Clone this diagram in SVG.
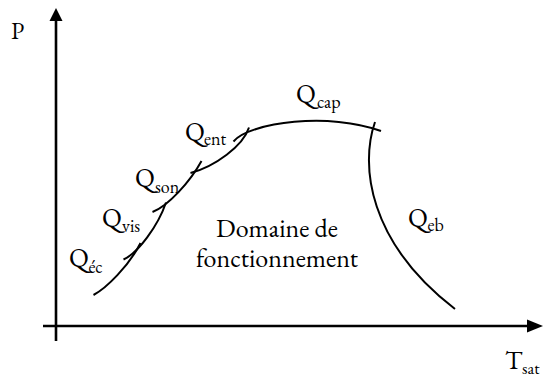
<svg xmlns="http://www.w3.org/2000/svg" width="543" height="378" viewBox="0 0 543 378">
<style>
.ax{stroke:#000;stroke-width:2.6;fill:none}
.cv{stroke:#000;stroke-width:2;fill:none;stroke-linecap:butt}
.q{font-size:26px}
.s{font-size:18px}
</style>
<rect width="543" height="378" fill="#fff"/>
<g id="axes">
<line class="ax" x1="56" y1="341" x2="56" y2="18"/>
<polygon points="56,8 49.5,21 62.5,21" fill="#000"/>
<line class="ax" x1="43" y1="326" x2="530" y2="326"/>
<polygon points="543,326 527,319.5 527,332.5" fill="#000"/>
<text id="P" font-family="EB Garamond, serif" x="11" y="39" font-size="24">P</text>
<text id="Tsat" class="q" font-family="EB Garamond, serif" x="505" y="369">T<tspan x="522" y="374" font-size="17">sat</tspan></text>
</g>
<g id="connectors">
<path id="c-ec" class="cv" d="M93.5,295 C106,288.5 129,266 140.5,243"/>
<path id="c-vis" class="cv" d="M123.5,259.5 C138,253 158,226 166,202.5"/>
<path id="c-son" class="cv" d="M152.5,212 C168,206 190,182 201.5,161"/>
<path id="c-ent" class="cv" d="M190.5,173 C215,166.5 243,146 249,127.5"/>
<path id="c-cap" class="cv" d="M233.5,141.5 C250,122 330,112 381,131"/>
<path id="c-eb" class="cv" d="M375,122 C360,165 368,242 455,309"/>
</g>
<g id="n-ec"><text class="q" font-family="EB Garamond, serif" x="69" y="266">Q<tspan class="s" x="88.5" y="273">éc</tspan></text></g>
<g id="n-vis"><text class="q" font-family="EB Garamond, serif" x="102" y="226">Q<tspan class="s" x="122" y="232">vis</tspan></text></g>
<g id="n-son"><text class="q" font-family="EB Garamond, serif" x="135" y="186">Q<tspan class="s" x="155" y="193">son</tspan></text></g>
<g id="n-ent"><text class="q" font-family="EB Garamond, serif" x="185" y="140">Q<tspan class="s" x="204" y="145">ent</tspan></text></g>
<g id="n-cap"><text class="q" font-family="EB Garamond, serif" x="296" y="102">Q<tspan class="s" x="317" y="108">cap</tspan></text></g>
<g id="n-eb"><text class="q" font-family="EB Garamond, serif" x="408" y="226">Q<tspan class="s" x="427.5" y="231">eb</tspan></text></g>
<g id="n-domaine"><text class="q" font-family="EB Garamond, serif" text-anchor="middle"><tspan x="277" y="237">Domaine de</tspan><tspan x="277" y="267">fonctionnement</tspan></text></g>
</svg>
